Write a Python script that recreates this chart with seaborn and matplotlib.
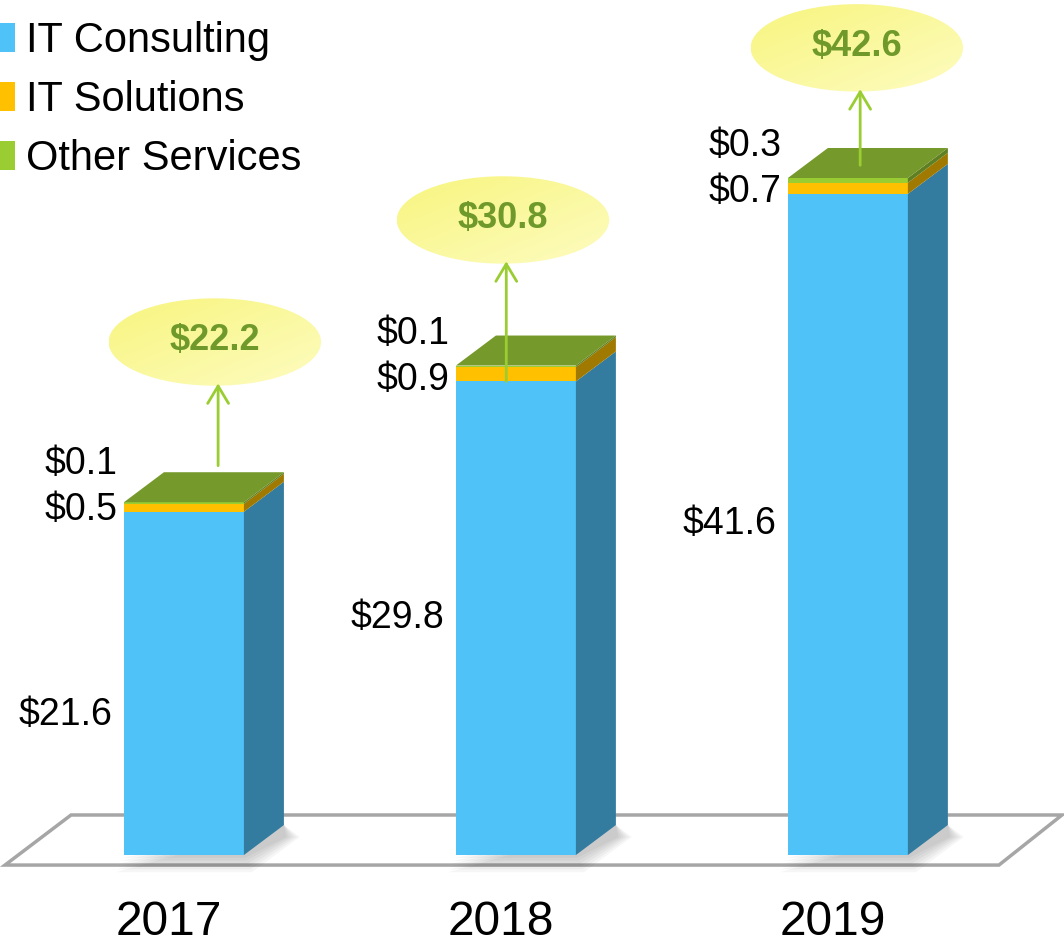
import matplotlib
matplotlib.use("Agg")
import numpy as np
import pandas as pd
import matplotlib.pyplot as plt
import seaborn as sns
from matplotlib.patches import Polygon, Ellipse, Patch
from matplotlib.colors import LinearSegmentedColormap

# ------------------ data ------------------
years = ["2017", "2018", "2019"]
series_names = ["IT Consulting", "IT Solutions", "Other Services"]
it_consulting = [21.6, 29.8, 41.6]
it_solutions = [0.5, 0.9, 0.7]
other_services = [0.1, 0.1, 0.3]
totals = [22.2, 30.8, 42.6]

# ------------------ style / layout ------------------
front_colors = ["#4fc3f7", "#ffc000", "#9acd32"]
side_colors = ["#337b9f", "#a07a00", "#5e7f22"]
top_color = "#76992b"
total_color = "#6f9a2b"
arrow_color = "#9acd32"

bar_w = 0.3614      # front face width (category units)
depth_x = 0.1205    # 3d depth offset
depth_y = 1.888

bubble_dx = [0.093, -0.039, 0.027]
bubble_dy = [10.08, 9.16, 8.19]
bubble_w, bubble_h = 0.64, 5.5
arrow_base = [2.3, -1.0, 0.8]
consult_nudge = [-2.0, 0.0, 0.0]

sns.set_style("white")
plt.rcParams["font.family"] = ["Liberation Sans", "DejaVu Sans"]
plt.rcParams["text.color"] = "black"

fig = plt.figure(figsize=(10.64, 9.52), dpi=100)
ax = fig.add_axes([0, 0, 1, 1])

# long table of cumulative heights, drawn tallest first so they stack visually
cum = np.cumsum(np.array([it_consulting, it_solutions, other_services]), axis=0)
df = pd.DataFrame({"year": years * 3,
                   "series": np.repeat(series_names, len(years)),
                   "cum": cum.ravel()})

# floor
floor = Polygon([(-0.539, -0.63), (-0.340, 2.52), (2.645, 2.52), (2.455, -0.63)],
                closed=True, facecolor="white", edgecolor="#a6a6a6", lw=2.5, zorder=0)
ax.add_patch(floor)

# soft shadow at the foot of each bar
for i in range(len(years)):
    xl, xr = i - bar_w / 2, i + bar_w / 2
    for k in range(6):
        gx, gy = 0.004 * (k + 1), 0.18 * (k + 1)
        ax.add_patch(Polygon([(xl - gx, -gy), (xr + gx, -gy),
                              (xr + depth_x + 2 * gx, depth_y * 0.6),
                              (xr + depth_x, depth_y)],
                             closed=True, facecolor="black", alpha=0.035,
                             lw=0, zorder=1))

# front faces with seaborn
for j in reversed(range(len(series_names))):
    sub = df[df["series"] == series_names[j]]
    sns.barplot(data=sub, x="year", y="cum", color=front_colors[j], width=bar_w,
                saturation=1, errorbar=None, ax=ax, zorder=2, linewidth=0)

# side and top faces
for i in range(len(years)):
    xr = i + bar_w / 2
    xl = i - bar_w / 2
    bottoms = [0, cum[0, i], cum[1, i]]
    for j in range(len(series_names)):
        y0, y1 = bottoms[j], cum[j, i]
        ax.add_patch(Polygon([(xr, y0), (xr + depth_x, y0 + depth_y),
                              (xr + depth_x, y1 + depth_y), (xr, y1)],
                             closed=True, facecolor=side_colors[j], lw=0, zorder=3))
    top = cum[-1, i]
    ax.add_patch(Polygon([(xl, top), (xl + depth_x, top + depth_y),
                          (xr + depth_x, top + depth_y), (xr, top)],
                         closed=True, facecolor=top_color, lw=0, zorder=3))

# segment labels
for i in range(len(years)):
    xl = i - bar_w / 2
    ax.text(xl - 0.036, it_consulting[i] / 2 + consult_nudge[i], f"${it_consulting[i]}",
            ha="right", va="center", fontsize=27, color="black", zorder=5)
    ax.text(xl - 0.02, it_consulting[i] + 0.1, f"${it_solutions[i]}",
            ha="right", va="center", fontsize=27, color="black", zorder=5)
    ax.text(xl - 0.02, it_consulting[i] + 3.0, f"${other_services[i]}",
            ha="right", va="center", fontsize=27, color="black", zorder=5)

# total bubbles with arrows
grad = np.linspace(0, 1, 256).reshape(1, -1) + np.linspace(0, 1, 256).reshape(-1, 1)
bubble_cmap = LinearSegmentedColormap.from_list("bub", ["#f8f57e", "#fdfcc0"])
for i in range(len(years)):
    cx = i + bubble_dx[i]
    cy = totals[i] + bubble_dy[i]
    ell = Ellipse((cx, cy), bubble_w, bubble_h, facecolor="none", lw=0, zorder=4)
    ax.add_patch(ell)
    im = ax.imshow(grad, extent=(cx - bubble_w / 2, cx + bubble_w / 2,
                                 cy - bubble_h / 2, cy + bubble_h / 2),
                   cmap=bubble_cmap, aspect="auto", zorder=4, origin="upper")
    im.set_clip_path(ell)
    ax.text(cx, cy + 0.1, f"${totals[i]}", ha="center", va="center", fontsize=26,
            fontweight="bold", color=total_color, zorder=6)
    ax.annotate("", xy=(cx + 0.01, cy - bubble_h / 2 + 0.15),
                xytext=(cx + 0.01, totals[i] + arrow_base[i]),
                arrowprops=dict(arrowstyle="->,head_length=0.5,head_width=0.3",
                                color=arrow_color, lw=2, mutation_scale=25,
                                shrinkA=0, shrinkB=0),
                zorder=6)

# year labels
for i, yr in enumerate(years):
    ax.text(i - 0.045, -4.27, yr, ha="center", va="center", fontsize=34.5, color="black")

# legend
handles = [Patch(facecolor=c, edgecolor="none") for c in front_colors]
ax.legend(handles, series_names, loc="upper left", bbox_to_anchor=(0, 0.978),
          bbox_transform=fig.transFigure, frameon=False, fontsize=30,
          labelcolor="black", handlelength=0.35, handleheight=0.7,
          handletextpad=0.27, labelspacing=0.46, borderaxespad=0, borderpad=0)

ax.set_xlim(-0.554, 2.651)
ax.set_ylim(-6.10, 53.8)
ax.axis("off")

plt.savefig("out.png", dpi=100)
plt.close()
